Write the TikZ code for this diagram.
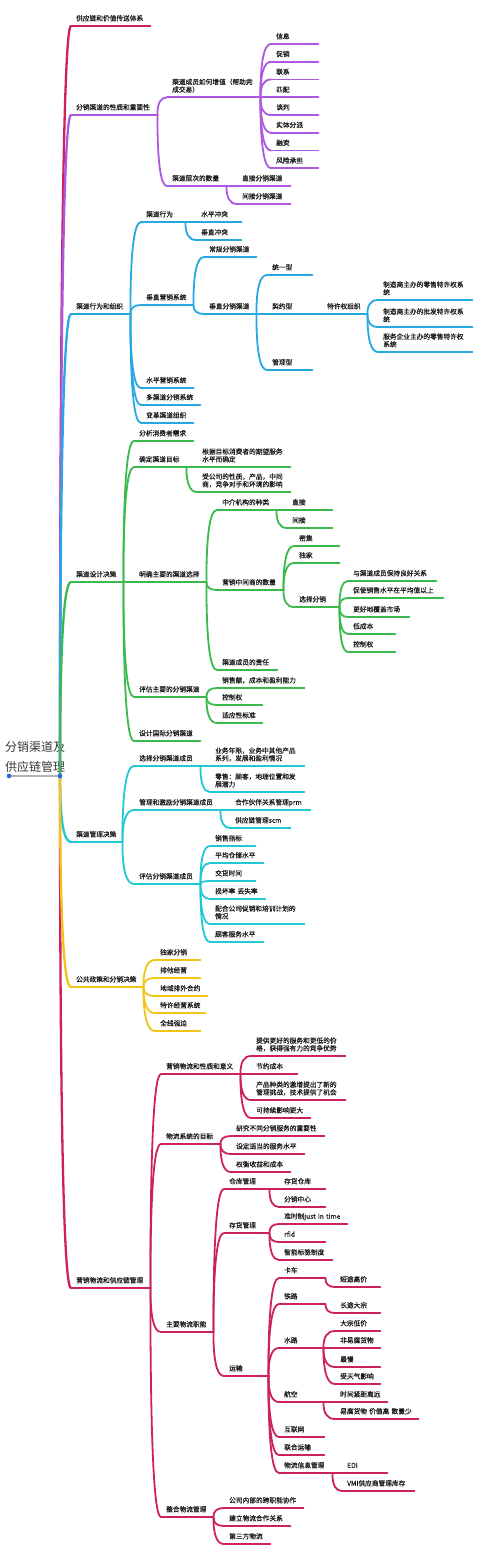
\documentclass[tikz,border=0pt]{standalone}
\usepackage{fontspec}
\newfontfamily\zhfont[FakeBold=0.3]{Noto Sans CJK SC}
\newfontfamily\zhroot{Noto Sans CJK SC}
\usetikzlibrary{calc}
\definecolor{brred}{RGB}{205,32,96}
\definecolor{brpurple}{RGB}{172,88,226}
\definecolor{brblue}{RGB}{38,168,226}
\definecolor{brgreen}{RGB}{58,186,76}
\definecolor{brcyan}{RGB}{32,200,212}
\definecolor{bryellow}{RGB}{243,196,22}
\definecolor{ink}{RGB}{25,25,25}
\definecolor{rootink}{RGB}{55,55,55}
\definecolor{handle}{RGB}{28,110,232}
\newcommand\twol[2]{\parbox[b]{\linewidth}{\raggedright #1\\#2}}

\begin{document}
\begin{tikzpicture}[
  x=1pt, y=-1pt,
  tp/.style={anchor=south west, inner xsep=5pt, inner ysep=5pt, text depth=0pt,
             align=left, text=ink, font=\zhfont\fontsize{6.7}{7.7}\selectfont,
             append after command={(\tikzlastnode.south west) edge[uline] (\tikzlastnode.south east)}},
  uline/.style={line width=1.8pt, line cap=round},
  curve/.style={to path={let \p1=(\tikztostart), \p2=(\tikztotarget) in
                .. controls (\x1,{(\y1+2*\y2)/3}) and ({(2*\x1+\x2)/3},\y2) .. (\tikztotarget)}},
  fork/.style={line width=1.8pt, line cap=round, every edge/.append style={curve}},
  trunk/.style={fork, line width=2.3pt},
  rootnode/.style={anchor=south west, inner sep=0pt, inner ysep=4.7pt, text depth=0pt,
                   text=rootink, font=\zhroot\fontsize{12}{20}\selectfont},
]
\useasboundingbox (0,0) rectangle (480,1553);
\fill[white] (0,0) rectangle (480,1553);

% central topic
\node[rootnode] (root) at (5,776) {\parbox[b]{61pt}{分销渠道及\\供应链管理}};
\coordinate (rootl) at (9,776);
\coordinate (hub) at (60,776);

% supply chain
\begin{scope}[brred]
\node[tp, text width=69pt] (valuechain) at (71,26) {供应链和价值传送体系};
\end{scope}

% nature and importance of channels
\begin{scope}[brpurple]
\node[tp, text width=76pt] (nature) at (71,115) {分销渠道的性质和重要性};
\node[tp, text width=83pt] (addval) at (167,97.3) {\twol{渠道成员如何增值（帮助完}{成交易）}};
\node[tp, text width=37pt] (info) at (271,44) {信息};
\node[tp, text width=37pt] (promo) at (271,61.75) {促销};
\node[tp, text width=37pt] (contact) at (271,79.5) {联系};
\node[tp, text width=37pt] (match) at (271,97.3) {匹配};
\node[tp, text width=37pt] (negot) at (271,115) {谈判};
\node[tp, text width=37pt] (physdist) at (271,132.75) {实体分派};
\node[tp, text width=37pt] (finance) at (271,150.5) {融资};
\node[tp, text width=37pt] (risk) at (271,168.25) {风险承担};
\node[tp, text width=49pt] (levels) at (167,186) {渠道层次的数量};
\node[tp, text width=43pt] (direct) at (237,186) {直接分销渠道};
\node[tp, text width=43pt] (indirect) at (237,204) {间接分销渠道};
\draw[fork] (nature.south east) edge (addval.south west) edge (levels.south west);
\draw[fork] (addval.south east) edge (info.south west) edge (promo.south west)
  edge (contact.south west) edge (match.south west) edge (negot.south west)
  edge (physdist.south west) edge (finance.south west) edge (risk.south west);
\draw[fork] (levels.south east) edge (direct.south west) edge (indirect.south west);
\end{scope}

% channel behaviour and organisation
\begin{scope}[brblue]
\node[tp, text width=49pt] (behave) at (71,314) {渠道行为和组织};
\node[tp, text width=34pt] (conduct) at (141,222) {渠道行为};
\node[tp, text width=35pt] (hconf) at (196,222) {水平冲突};
\node[tp, text width=35pt] (vconf) at (196,240) {垂直冲突};
\node[tp, text width=42pt] (vms) at (141,305) {垂直营销系统};
\node[tp, text width=42pt] (conv) at (204,257) {常规分销渠道};
\node[tp, text width=42pt] (vdist) at (204,314) {垂直分销渠道};
\node[tp, text width=35pt] (corp) at (267,275) {统一型};
\node[tp, text width=35pt] (contract) at (267,314) {契约型};
\node[tp, text width=35pt] (franchise) at (322,314) {特许权组织};
\node[tp, text width=84pt] (fr1) at (378,300) {\twol{制造商主办的零售特许权系}{统}};
\node[tp, text width=84pt] (fr2) at (378,327) {\twol{制造商主办的批发特许权系}{统}};
\node[tp, text width=84pt] (fr3) at (378,352) {\twol{服务企业主办的零售特许权}{系统}};
\node[tp, text width=35pt] (admin) at (267,370) {管理型};
\node[tp, text width=42pt] (hms) at (141,388) {水平营销系统};
\node[tp, text width=49pt] (multi) at (141,405) {多渠道分销系统};
\node[tp, text width=42pt] (change) at (141,423) {变革渠道组织};
\draw[fork] (behave.south east) edge (conduct.south west) edge (vms.south west)
  edge (hms.south west) edge (multi.south west) edge (change.south west);
\draw[fork] (conduct.south east) edge (hconf.south west) edge (vconf.south west);
\draw[fork] (vms.south east) edge (conv.south west) edge (vdist.south west);
\draw[fork] (vdist.south east) edge (corp.south west) edge (contract.south west) edge (admin.south west);
\draw[fork] (contract.south east) edge (franchise.south west);
\draw[fork] (franchise.south east) edge (fr1.south west) edge (fr2.south west) edge (fr3.south west);
\end{scope}

% channel design decisions
\begin{scope}[brgreen]
\node[tp, text width=42pt] (design) at (71,582) {渠道设计决策};
\node[tp, text width=49pt] (needs) at (134,441) {分析消费者需求};
\node[tp, text width=42pt] (goals) at (134,467) {确定渠道目标};
\node[tp, text width=83pt] (goal1) at (197,467) {\twol{根据目标消费者的期望服务}{水平而确定}};
\node[tp, text width=83pt] (goal2) at (197,492) {\twol{受公司的性质，产品，中间}{商，竞争对手和环境的影响}};
\node[tp, text width=62pt] (alts) at (134,582) {明确主要的渠道选择};
\node[tp, text width=49pt] (kinds) at (217,510) {中介机构的种类};
\node[tp, text width=35pt] (kdirect) at (287,510) {直接};
\node[tp, text width=35pt] (kindirect) at (287,528) {间接};
\node[tp, text width=56pt] (number) at (217,590) {营销中间商的数量};
\node[tp, text width=35pt] (intensive) at (294,546) {密集};
\node[tp, text width=35pt] (exclusive) at (294,563) {独家};
\node[tp, text width=35pt] (selective) at (294,607) {选择分销};
\node[tp, text width=78pt] (sel1) at (348,581) {与渠道成员保持良好关系};
\node[tp, text width=85pt] (sel2) at (348,598) {促使销售水平在平均值以上};
\node[tp, text width=51pt] (sel3) at (348,617) {更好地覆盖市场};
\node[tp, text width=37pt] (sel4) at (348,634) {低成本};
\node[tp, text width=37pt] (sel5) at (348,652) {控制权};
\node[tp, text width=50pt] (duties) at (217,670) {渠道成员的责任};
\node[tp, text width=62pt] (evalalt) at (134,697) {评估主要的分销渠道};
\node[tp, text width=77pt] (crit1) at (217,688) {销售额，成本和盈利能力};
\node[tp, text width=35pt] (crit2) at (217,705) {控制权};
\node[tp, text width=35pt] (crit3) at (217,723) {适应性标准};
\node[tp, text width=56pt] (intl) at (134,741) {设计国际分销渠道};
\draw[fork] (design.south east) edge (needs.south west) edge (goals.south west)
  edge (alts.south west) edge (evalalt.south west) edge (intl.south west);
\draw[fork] (goals.south east) edge (goal1.south west) edge (goal2.south west);
\draw[fork] (alts.south east) edge (kinds.south west) edge (number.south west) edge (duties.south west);
\draw[fork] (kinds.south east) edge (kdirect.south west) edge (kindirect.south west);
\draw[fork] (number.south east) edge (intensive.south west) edge (exclusive.south west) edge (selective.south west);
\draw[fork] (selective.south east) edge (sel1.south west) edge (sel2.south west)
  edge (sel3.south west) edge (sel4.south west) edge (sel5.south west);
\draw[fork] (evalalt.south east) edge (crit1.south west) edge (crit2.south west) edge (crit3.south west);
\end{scope}

% channel management decisions
\begin{scope}[brcyan]
\node[tp, text width=41pt] (manage) at (71,842) {渠道管理决策};
\node[tp, text width=56pt] (choose) at (134,766) {选择分销渠道成员};
\node[tp, text width=84pt] (choose1) at (210,766) {\twol{业务年限，业务中其他产品}{系列，发展和盈利情况}};
\node[tp, text width=84pt] (choose2) at (210,792) {\twol{零售：顾客，地理位置和发}{展潜力}};
\node[tp, text width=76pt] (motivate) at (134,810) {管理和激励分销渠道成员};
\node[tp, text width=70pt] (prm) at (230,810) {合作伙伴关系管理prm};
\node[tp, text width=50pt] (scm) at (230,828) {供应链管理scm};
\node[tp, text width=56pt] (evalmem) at (134,884) {评估分销渠道成员};
\node[tp, text width=35pt] (em1) at (210,846) {销售指标};
\node[tp, text width=43pt] (em2) at (210,863) {平均仓储水平};
\node[tp, text width=35pt] (em3) at (210,881) {交货时间};
\node[tp, text width=45pt] (em4) at (210,899) {损坏率~丢失率};
\node[tp, text width=84pt] (em5) at (210,924) {\twol{配合公司促销和培训计划的}{情况}};
\node[tp, text width=43pt] (em6) at (210,942) {顾客服务水平};
\draw[fork] (manage.south east) edge (choose.south west) edge (motivate.south west) edge (evalmem.south west);
\draw[fork] (choose.south east) edge (choose1.south west) edge (choose2.south west);
\draw[fork] (motivate.south east) edge (prm.south west) edge (scm.south west);
\draw[fork] (evalmem.south east) edge (em1.south west) edge (em2.south west) edge (em3.south west)
  edge (em4.south west) edge (em5.south west) edge (em6.south west);
\end{scope}

% public policy
\begin{scope}[bryellow]
\node[tp, text width=62pt] (policy) at (71,987) {公共政策和分销决策};
\node[tp, text width=35pt] (pol1) at (155,960) {独家分销};
\node[tp, text width=35pt] (pol2) at (155,978) {排他经营};
\node[tp, text width=42pt] (pol3) at (155,996) {地域排外合约};
\node[tp, text width=40pt] (pol4) at (155,1013) {特许经营系统};
\node[tp, text width=35pt] (pol5) at (155,1031) {全线强迫};
\draw[fork] (policy.south east) edge (pol1.south west) edge (pol2.south west)
  edge (pol3.south west) edge (pol4.south west) edge (pol5.south west);
\end{scope}

% marketing logistics and supply chain management
\begin{scope}[brred]
\node[tp, text width=69pt] (logistics) at (71,1288) {营销物流和供应链管理};
\node[tp, text width=69pt] (lnature) at (161,1074) {营销物流和性质和意义};
\node[tp, text width=84pt] (ln1) at (251,1056) {\twol{提供更好的服务和更低的价}{格，获得强有力的竞争优势}};
\node[tp, text width=36pt] (ln2) at (251,1074) {节约成本};
\node[tp, text width=84pt] (ln3) at (251,1100) {\twol{产品种类的激增提出了新的}{管理挑战，技术提供了机会}};
\node[tp, text width=49pt] (ln4) at (251,1118) {可持续影响更大};
\node[tp, text width=49pt] (lgoal) at (161,1144) {物流系统的目标};
\node[tp, text width=83pt] (lg1) at (231,1136) {研究不同分销服务的重要性};
\node[tp, text width=63pt] (lg2) at (231,1154) {设定适当的服务水平};
\node[tp, text width=49pt] (lg3) at (231,1172) {权衡收益和成本};
\node[tp, text width=42pt] (lfunc) at (161,1332) {主要物流职能};
\node[tp, text width=35pt] (ware) at (224,1189) {仓库管理};
\node[tp, text width=36pt] (wh1) at (279,1189) {存货仓库};
\node[tp, text width=36pt] (wh2) at (279,1207) {分销中心};
\node[tp, text width=35pt] (inv) at (224,1233) {存货管理};
\node[tp, text width=58pt] (inv1) at (279,1224) {准时制just~in~time};
\node[tp, text width=36pt] (inv2) at (279,1242) {rfid};
\node[tp, text width=43pt] (inv3) at (279,1260) {智能标签制度};
\node[tp, text width=34pt] (trans) at (224,1376) {运输};
\node[tp, text width=36pt] (truck) at (279,1278) {卡车};
\node[tp, text width=35pt] (truck1) at (335,1287) {短途高价};
\node[tp, text width=36pt] (rail) at (279,1304) {铁路};
\node[tp, text width=35pt] (rail1) at (335,1313) {长途大宗};
\node[tp, text width=34pt] (water) at (279,1348) {水路};
\node[tp, text width=35pt] (wat1) at (335,1331) {大宗低价};
\node[tp, text width=35pt] (wat2) at (335,1348) {非易腐货物};
\node[tp, text width=35pt] (wat3) at (335,1367) {最慢};
\node[tp, text width=35pt] (wat4) at (335,1384) {受天气影响};
\node[tp, text width=34pt] (air) at (279,1402) {航空};
\node[tp, text width=42pt] (air1) at (335,1402) {时间紧距离远};
\node[tp, text width=73pt] (air2) at (335,1419) {易腐货物~价值高~数量少};
\node[tp, text width=35pt] (web) at (279,1437) {互联网};
\node[tp, text width=35pt] (intermodal) at (279,1455) {联合运输};
\node[tp, text width=43pt] (lis) at (279,1473) {物流信息管理};
\node[tp, text width=35pt] (edi) at (342,1473) {EDI};
\node[tp, text width=62pt] (vmi) at (342,1491) {VMI供应商管理库存};
\node[tp, text width=42pt] (integ) at (161,1517) {整合物流管理};
\node[tp, text width=69pt] (ig1) at (224,1508) {公司内部的跨职能协作};
\node[tp, text width=56pt] (ig2) at (224,1526) {建立物流合作关系};
\node[tp, text width=36pt] (ig3) at (224,1544) {第三方物流};
\draw[fork] (logistics.south east) edge (lnature.south west) edge (lgoal.south west)
  edge (lfunc.south west) edge (integ.south west);
\draw[fork] (lnature.south east) edge (ln1.south west) edge (ln2.south west)
  edge (ln3.south west) edge (ln4.south west);
\draw[fork] (lgoal.south east) edge (lg1.south west) edge (lg2.south west) edge (lg3.south west);
\draw[fork] (lfunc.south east) edge (ware.south west) edge (inv.south west) edge (trans.south west);
\draw[fork] (ware.south east) edge (wh1.south west) edge (wh2.south west);
\draw[fork] (inv.south east) edge (inv1.south west) edge (inv2.south west) edge (inv3.south west);
\draw[fork] (trans.south east) edge (truck.south west) edge (rail.south west) edge (water.south west)
  edge (air.south west) edge (web.south west) edge (intermodal.south west) edge (lis.south west);
\draw[fork] (truck.south east) edge (truck1.south west);
\draw[fork] (rail.south east) edge (rail1.south west);
\draw[fork] (water.south east) edge (wat1.south west) edge (wat2.south west)
  edge (wat3.south west) edge (wat4.south west);
\draw[fork] (air.south east) edge (air1.south west) edge (air2.south west);
\draw[fork] (lis.south east) edge (edi.south west) edge (vmi.south west);
\draw[fork] (integ.south east) edge (ig1.south west) edge (ig2.south west) edge (ig3.south west);
\end{scope}

% main branches out of the central topic
\draw[trunk, brred] (hub) edge (valuechain.south west) edge (logistics.south west);
\draw[trunk, brpurple] (hub) edge (nature.south west);
\draw[trunk, brblue] (hub) edge (behave.south west);
\draw[trunk, brgreen] (hub) edge (design.south west);
\draw[trunk, brcyan] (hub) edge (manage.south west);
\draw[trunk, bryellow] (hub) edge (policy.south west);

% underline and handles of the central topic
\draw[gray!60, line width=1.2pt] (rootl) -- (hub);
\fill[handle] (rootl) circle (2.3) (hub) circle (2.3);

\end{tikzpicture}
\end{document}
